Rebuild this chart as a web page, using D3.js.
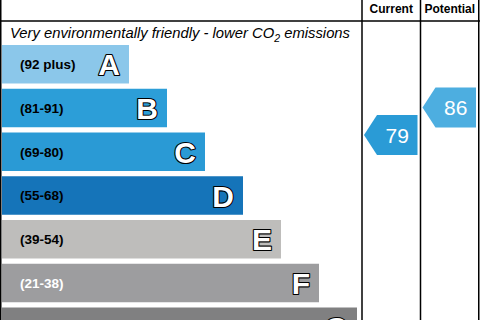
<!DOCTYPE html>
<html>
<head>
<meta charset="utf-8">
<script src="https://cdn.jsdelivr.net/npm/d3@7"></script>
<style>
  body { margin: 0; background: #fff; }
  svg { display: block; font-family: "Liberation Sans", Arial, sans-serif; }
</style>
</head>
<body>
<div id="chart"></div>
<script>
var bands = ["A", "B", "C", "D", "E", "F", "G"];
var ranges = ["(92 plus)", "(81-91)", "(69-80)", "(55-68)", "(39-54)", "(21-38)", "(1-20)"];
var colors = ["#8bc7ea", "#2c9ed8", "#2a9ad5", "#1574b9", "#bebdbb", "#9d9d9f", "#808081"];
var labelColors = ["#000", "#000", "#000", "#000", "#000", "#fff", "#fff"];
var columns = ["Current", "Potential"];
var ratings = [79, 86];
var ratingColors = ["#2a9bd6", "#4daee0"];

drawChart();

function drawChart() {
    var width = 480, height = 320;

    var svg = d3.select("#chart")
      .append("svg")
      .attr("width", width)
      .attr("height", height);

    var y = d3.scaleBand()
      .domain(bands)
      .range([45, 346])
      .paddingInner(0.12)
      .paddingOuter(0);

    var barW = d3.scaleLinear()
      .domain([0, 6])
      .range([127, 355]);

    var col = d3.scaleBand()
      .domain(columns)
      .range([362, 479]);

    // rating value -> vertical centre of the arrow
    var vy = d3.scaleLinear()
      .domain([100, 1])
      .range([52.5, 441.5]);

    // bars
    var bar = svg.selectAll("g.band")
      .data(bands)
      .enter()
      .append("g")
      .attr("class", "band");

    bar.append("rect")
      .attr("x", 2)
      .attr("y", d => y(d))
      .attr("width", (d, i) => barW(i))
      .attr("height", y.bandwidth())
      .attr("fill", (d, i) => colors[i]);

    bar.append("text")
      .attr("x", 20)
      .attr("y", d => y(d) + y.bandwidth() / 2)
      .attr("dy", "0.36em")
      .attr("font-size", 13.5)
      .attr("font-weight", "bold")
      .attr("fill", (d, i) => labelColors[i])
      .text((d, i) => ranges[i]);

    bar.append("text")
      .attr("x", (d, i) => 2 + barW(i) - 9)
      .attr("y", d => y(d) + y.bandwidth() / 2)
      .attr("dy", "0.37em")
      .attr("text-anchor", "end")
      .attr("font-size", 30)
      .attr("font-weight", "bold")
      .attr("fill", "#fff")
      .attr("stroke", "#000")
      .attr("stroke-width", 2.2)
      .attr("paint-order", "stroke")
      .attr("stroke-linejoin", "round")
      .text(d => d);

    // title
    var t = svg.append("text")
      .attr("x", 10)
      .attr("y", 38)
      .attr("font-size", 14.8)
      .attr("font-style", "italic")
      .attr("fill", "#000")
      .text("Very environmentally friendly - lower CO");
    t.append("tspan").attr("font-size", 10.5).attr("dy", 4).text("2");
    t.append("tspan").attr("dy", -4).text(" emissions");

    // frame
    var lines = svg.append("g").attr("stroke", "#000").attr("stroke-width", 1.5);
    lines.append("line").attr("x1", 0.75).attr("x2", 0.75).attr("y1", -1).attr("y2", height);
    lines.append("line").attr("x1", 0).attr("x2", width).attr("y1", 21).attr("y2", 21);
    col.domain().forEach(function(c) {
        lines.append("line")
          .attr("x1", col(c)).attr("x2", col(c))
          .attr("y1", -1).attr("y2", height);
    });
    lines.append("line").attr("x1", 478.75).attr("x2", 478.75).attr("y1", -1).attr("y2", height);

    svg.selectAll("text.head")
      .data(columns)
      .enter()
      .append("text")
      .attr("class", "head")
      .attr("x", d => col(d) + col.bandwidth() / 2)
      .attr("y", 13)
      .attr("text-anchor", "middle")
      .attr("font-size", 12)
      .attr("font-weight", "bold")
      .text(d => d);

    // arrows
    var h = 40, tip = 13;
    var arrow = svg.selectAll("g.arrow")
      .data(ratings)
      .enter()
      .append("g")
      .attr("class", "arrow");

    arrow.append("path")
      .attr("d", function(d, i) {
          var x0 = col(columns[i]) + 2, x1 = col(columns[i]) + col.bandwidth() - 3;
          var c = vy(d);
          return "M" + x0 + "," + c + "L" + (x0 + tip) + "," + (c - h / 2) +
                 "L" + x1 + "," + (c - h / 2) + "L" + x1 + "," + (c + h / 2) +
                 "L" + (x0 + tip) + "," + (c + h / 2) + "Z";
      })
      .attr("fill", (d, i) => ratingColors[i]);

    arrow.append("text")
      .attr("x", (d, i) => col(columns[i]) + 2 + tip + (col.bandwidth() - 5 - tip) / 2)
      .attr("y", d => vy(d))
      .attr("dy", "0.36em")
      .attr("text-anchor", "middle")
      .attr("font-size", 21)
      .attr("fill", "#fff")
      .text(d => d);
}
</script>
</body>
</html>
